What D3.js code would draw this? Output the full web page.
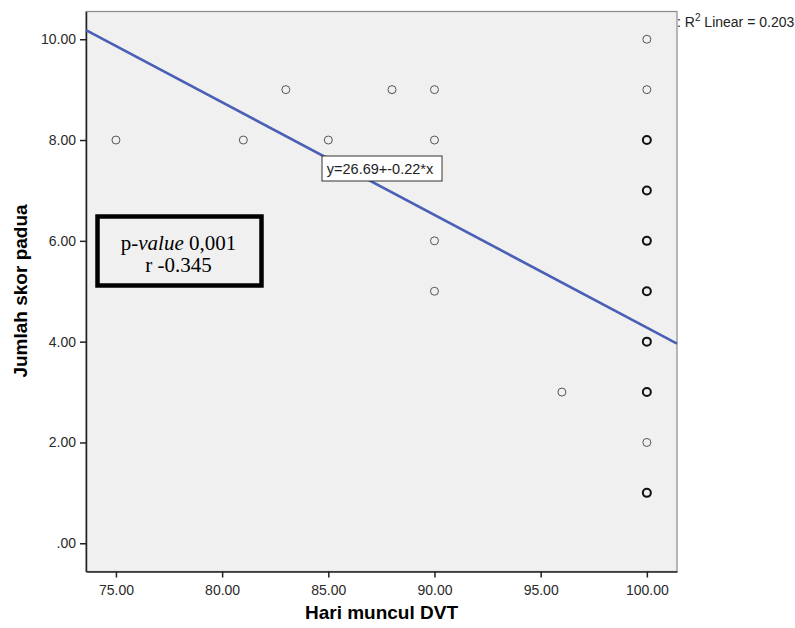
<!DOCTYPE html>
<html>
<head>
<meta charset="utf-8">
<script src="https://cdn.jsdelivr.net/npm/d3@7"></script>
<style>
  body { margin: 0; background: #fff; }
  svg text { font-family: Arial, "Liberation Sans", sans-serif; }
</style>
</head>
<body>
<div id="chart"></div>
<script>
/* data */
const hariDVT   = [75, 81, 83, 85, 88, 90, 90, 90, 90, 96, 100, 100, 100, 100, 100, 100, 100, 100, 100, 100];
const skorPadua = [8, 8, 9, 8, 9, 9, 8, 6, 5, 3, 10, 9, 8, 7, 6, 5, 4, 3, 2, 1];
// points drawn bold where several cases overlap
const overlap   = [1, 1, 1, 1, 1, 1, 1, 1, 1, 1, 1, 1, 2, 2, 2, 2, 2, 2, 1, 2];

const xTicks = [75, 80, 85, 90, 95, 100];
const yTicks = [0, 2, 4, 6, 8, 10];

// fit line as drawn (label shows the rounded values)
const fitIntercept = 26.62;
const fitSlope = -0.2234;
const fitLabel = "y=26.69+-0.22*x";
const r2Label = "0.203";
const statLines = ["p-value 0,001", "r -0.345"];

const width = 795, height = 628;
const margin = { top: 11.5, right: 118, bottom: 56.5, left: 86 };

const svg = d3.select("#chart").append("svg")
    .attr("width", width)
    .attr("height", height);

const x = d3.scaleLinear()
    .domain([73.59, 101.42])
    .range([margin.left, width - margin.right]);

const y = d3.scaleLinear()
    .domain([-0.56, 10.55])
    .range([height - margin.bottom, margin.top]);

// plot background + frame
svg.append("rect")
    .attr("x", margin.left)
    .attr("y", margin.top)
    .attr("width", x.range()[1] - margin.left)
    .attr("height", y.range()[0] - margin.top)
    .attr("fill", "#f0f0f0")
    .attr("stroke", "#8a8a8a")
    .attr("stroke-width", 1.2);

// axes
const fmt = d => d === 0 ? ".00" : d3.format(".2f")(d);

const xAxis = svg.append("g")
    .attr("transform", `translate(0,${y.range()[0]})`)
    .call(d3.axisBottom(x).tickValues(xTicks).tickFormat(fmt).tickSize(6).tickSizeOuter(0));

const yAxis = svg.append("g")
    .attr("transform", `translate(${margin.left},0)`)
    .call(d3.axisLeft(y).tickValues(yTicks).tickFormat(fmt).tickSize(6).tickSizeOuter(0));

[xAxis, yAxis].forEach(g => {
    g.select(".domain").attr("stroke", "#222").attr("stroke-width", 1.5);
    g.selectAll(".tick line").attr("stroke", "#222").attr("stroke-width", 1.5);
    g.selectAll(".tick text")
        .attr("fill", "#2a2a2a")
        .style("font-size", "14px");
});
xAxis.selectAll(".tick text").attr("dy", "1.05em");
yAxis.selectAll(".tick text").attr("x", -10);

// regression line
const xd = x.domain();
svg.append("line")
    .attr("x1", x(xd[0]))
    .attr("y1", y(fitIntercept + fitSlope * xd[0]))
    .attr("x2", x(xd[1]))
    .attr("y2", y(fitIntercept + fitSlope * xd[1]))
    .attr("stroke", "#4a5fb5")
    .attr("stroke-width", 2.6);

// points
const points = hariDVT.map((v, i) => ({ x: v, y: skorPadua[i], n: overlap[i] }));

svg.append("g")
    .selectAll("circle")
    .data(points)
    .enter()
    .append("circle")
    .attr("cx", d => x(d.x))
    .attr("cy", d => y(d.y))
    .attr("r", 4)
    .attr("fill", "none")
    .attr("stroke", d => d.n > 1 ? "#111" : "#555")
    .attr("stroke-width", d => d.n > 1 ? 2 : 1);

// equation label
const eq = svg.append("g").attr("transform", "translate(322,156)");
eq.append("rect")
    .attr("width", 120)
    .attr("height", 25)
    .attr("fill", "#fff")
    .attr("stroke", "#333")
    .attr("stroke-width", 1);
eq.append("text")
    .attr("x", 58)
    .attr("y", 18)
    .attr("text-anchor", "middle")
    .attr("fill", "#222")
    .style("font-size", "14.5px")
    .text(fitLabel);

// stats box
const sb = svg.append("g").attr("transform", "translate(97.5,216.5)");
sb.append("rect")
    .attr("width", 164)
    .attr("height", 69)
    .attr("fill", "#f0f0f0")
    .attr("stroke", "#000")
    .attr("stroke-width", 4.5);
const t1 = sb.append("text")
    .attr("x", 81)
    .attr("y", 33.5)
    .attr("text-anchor", "middle")
    .style("font-family", "'Liberation Serif', 'Times New Roman', serif")
    .style("font-size", "21px");
t1.append("tspan").text("p-");
t1.append("tspan").style("font-style", "italic").text("value");
t1.append("tspan").text(" " + statLines[0].split(" ")[1]);
sb.append("text")
    .attr("x", 81)
    .attr("y", 55.5)
    .attr("text-anchor", "middle")
    .style("font-family", "'Liberation Serif', 'Times New Roman', serif")
    .style("font-size", "21px")
    .text(statLines[1]);

// R2 legend (partly cut off in original)
const lg = svg.append("text")
    .attr("x", 677)
    .attr("y", 27)
    .attr("fill", "#222")
    .style("font-size", "14px");
lg.append("tspan").text(": R");
lg.append("tspan").attr("dy", -6).style("font-size", "10px").text("2");
lg.append("tspan").attr("dy", 6).text(" Linear = " + r2Label);

// axis titles
svg.append("text")
    .attr("x", (margin.left + x.range()[1]) / 2)
    .attr("y", 619)
    .attr("text-anchor", "middle")
    .style("font-size", "19px")
    .style("font-weight", "bold")
    .text("Hari muncul DVT");

svg.append("text")
    .attr("transform", "translate(27,291) rotate(-90)")
    .attr("text-anchor", "middle")
    .style("font-size", "19px")
    .style("font-weight", "bold")
    .text("Jumlah skor padua");
</script>
</body>
</html>
